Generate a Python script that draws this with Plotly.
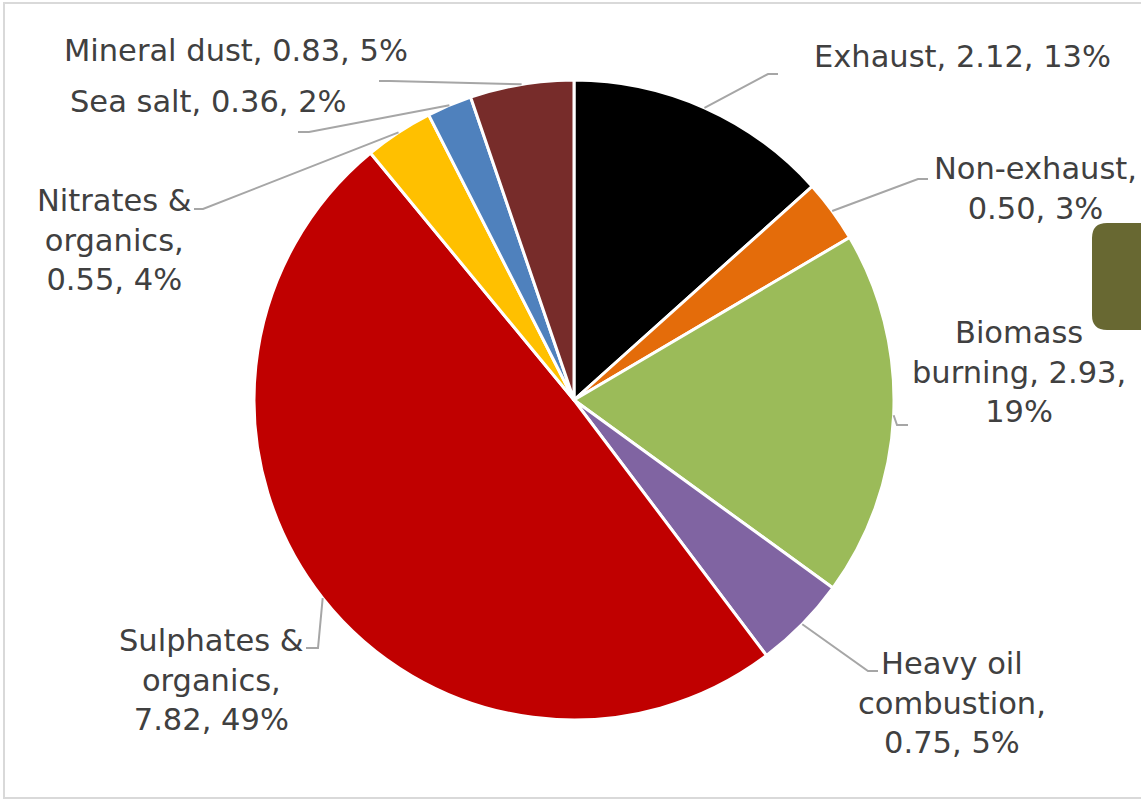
import math
import plotly.graph_objects as go

# PM2.5 source contributions (concentration and share)
sources = ["Exhaust", "Non-exhaust", "Biomass burning", "Heavy oil combustion",
           "Sulphates & organics", "Nitrates & organics", "Sea salt", "Mineral dust"]
values = [2.12, 0.50, 2.93, 0.75, 7.82, 0.55, 0.36, 0.83]
shares = [13, 3, 19, 5, 49, 4, 2, 5]  # percent shares as published
colors = ["#000000", "#E46C0A", "#9BBB59", "#8064A2",
          "#C00000", "#FFC000", "#4F81BD", "#772C2A"]

# label wrapping: indices of words after which a line break is inserted
breaks = [[], [0], [0, 2], [1, 2], [1, 2], [1, 2], [], []]

# label placement in pixels: (x, y, xanchor), plus leader-line elbow and end
label_pos = [(812, 57, "left"), (1035, 188, "center"), (1019, 372, "center"),
             (952, 703, "center"), (211, 680, "center"), (114, 240, "center"),
             (68, 102, "left"), (62, 50, "left")]
elbows = [(768, 74), (918, 179), (897, 425), (868, 671),
          (318, 648), (203, 209), (309, 132), (390, 81)]
ends = [(778, 74), (928, 179), (908, 425), (878, 671),
        (306, 648), (194, 209), (298, 132), (379, 81)]

W, H = 1141, 801
CX, CY, R = 574, 400, 320
TEXT = "#404040"
LEADER = "#A6A6A6"
FONT = "DejaVu Sans"


def px(x):
    return x / W


def py(y):
    return 1 - y / H


fig = go.Figure()
fig.add_trace(go.Pie(
    labels=sources, values=values, sort=False, direction="clockwise",
    rotation=0, textinfo="none", hoverinfo="label+value+percent",
    marker=dict(colors=colors, line=dict(color="white", width=3)),
    domain=dict(x=[px(CX - R), px(CX + R)], y=[py(CY + R), py(CY - R)]),
    showlegend=False,
))

total = sum(values)
shapes = []
annotations = []
cum = 0.0
for i, (name, v) in enumerate(zip(sources, values)):
    mid = (cum + v / 2) / total * 2 * math.pi
    cum += v
    sx = CX + R * math.sin(mid)
    sy = CY - R * math.cos(mid)
    ex, ey = elbows[i]
    fx, fy = ends[i]
    shapes.append(dict(
        type="path", xref="paper", yref="paper",
        path=f"M {px(sx)},{py(sy)} L {px(ex)},{py(ey)} L {px(fx)},{py(fy)}",
        line=dict(color=LEADER, width=2),
    ))
    words = f"{name}, {v:.2f}, {shares[i]}%".split(" ")
    text = ""
    for j, w in enumerate(words):
        text += w
        if j < len(words) - 1:
            text += "<br>" if j in breaks[i] else " "
    text = text.replace("&", "&amp;")
    lx, ly, anchor = label_pos[i]
    annotations.append(dict(
        x=px(lx), y=py(ly), xref="paper", yref="paper", text=text,
        showarrow=False, xanchor=anchor, yanchor="middle", align="center",
        font=dict(family=FONT, size=30.5, color=TEXT),
    ))

# chart area border
shapes.append(dict(type="rect", xref="paper", yref="paper",
                   x0=px(4), y0=py(798), x1=px(1146), y1=py(3),
                   line=dict(color="#D9D9D9", width=2), layer="below"))
# rounded olive block at the right edge
shapes.append(dict(
    type="path", xref="paper", yref="paper",
    path=(f"M {px(1092)},{py(238)} Q {px(1092)},{py(223)} {px(1107)},{py(223)} "
          f"L {px(1160)},{py(223)} L {px(1160)},{py(330)} L {px(1107)},{py(330)} "
          f"Q {px(1092)},{py(330)} {px(1092)},{py(315)} Z"),
    fillcolor="#686832", line=dict(width=0),
))

fig.update_layout(
    width=W, height=H, margin=dict(l=0, r=0, t=0, b=0),
    paper_bgcolor="white", plot_bgcolor="white",
    shapes=shapes, annotations=annotations,
    font=dict(family=FONT, color=TEXT),
)

fig.write_html("out.html")
